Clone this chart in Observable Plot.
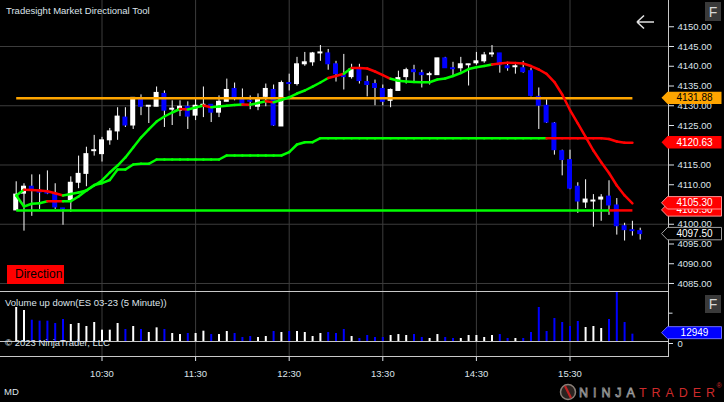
<!DOCTYPE html>
<html><head><meta charset="utf-8">
<script src="https://cdn.jsdelivr.net/npm/d3@7"></script>
<script src="https://cdn.jsdelivr.net/npm/@observablehq/plot@0.6"></script>
<style>
html,body{margin:0;padding:0;background:#000;}
#chart{position:relative;width:724px;height:402px;background:#000;overflow:hidden;font-family:"Liberation Sans",Arial,sans-serif;}
#chart svg{position:absolute;left:0;}
.txt{position:absolute;color:#dde3ea;font-size:9.5px;line-height:12px;white-space:nowrap;}
</style></head><body><div id="chart"></div>
<script>
// ---------- DATA ----------
const barTimes = ["09:35","09:40","09:45","09:50","09:55","10:00","10:05","10:10","10:15","10:20","10:25","10:30","10:35","10:40","10:45","10:50","10:55","11:00","11:05","11:10","11:15","11:20","11:25","11:30","11:35","11:40","11:45","11:50","11:55","12:00","12:05","12:10","12:15","12:20","12:25","12:30","12:35","12:40","12:45","12:50","12:55","13:00","13:05","13:10","13:15","13:20","13:25","13:30","13:35","13:40","13:45","13:50","13:55","14:00","14:05","14:10","14:15","14:20","14:25","14:30","14:35","14:40","14:45","14:50","14:55","15:00","15:05","15:10","15:15","15:20","15:25","15:30","15:35","15:40","15:45","15:50","15:55","16:00","16:05","16:10","16:15"];
const opens = [4103.5,4107.75,4109.5,4108.5,4108,4107.75,4104,4106,4110.5,4112.75,4118.5,4117.75,4121.25,4123.5,4127,4125,4131.5,4129.75,4129.75,4133,4129,4128.75,4129.75,4127.5,4129.75,4130.25,4128.25,4131,4134.25,4131.5,4131.25,4129.75,4132.25,4134,4124.75,4135.75,4135.5,4140.5,4141,4143.25,4143.25,4140.5,4137.75,4137.25,4139.25,4136,4135.5,4134.25,4131.25,4133.75,4137.25,4139,4138.25,4137.75,4137.75,4142,4139.5,4139.5,4140.25,4140.75,4141.25,4143,4143.25,4140,4139.75,4139.5,4138.75,4132.25,4130,4125.5,4118.5,4116.25,4109.5,4105.5,4105.75,4106.25,4107,4104.75,4099.5,4098.5,4098.25];
const highs = [4110.75,4110.25,4112.5,4112.5,4113.5,4110.25,4104,4112,4117.25,4119.5,4122.5,4122,4124.25,4129.5,4129.5,4132,4132.75,4130,4134.75,4133.75,4131.25,4131.25,4131,4131.75,4134.75,4130.25,4132.5,4136.75,4135.75,4134.25,4132.5,4133,4135.5,4135.25,4136.25,4138,4142.25,4143.5,4143.5,4145.25,4144.25,4141.25,4143,4140.5,4140.5,4137.5,4136.5,4135.25,4134.25,4138.75,4139.5,4140.25,4139,4138.5,4142,4142.25,4141,4142.25,4140.5,4143.5,4143.5,4145.25,4143.25,4141,4140.5,4141.25,4139.5,4134.5,4131.5,4125.75,4118.75,4118.75,4110.5,4111.25,4107.5,4107.5,4111,4106.5,4100.25,4100.75,4099];
const lows = [4103.5,4098.25,4102,4103.75,4107.5,4103.75,4099.75,4103,4109,4109.5,4117.25,4115.75,4120,4121.25,4124.5,4124,4127.5,4125.5,4129.75,4124.5,4125,4127.25,4124,4126.25,4127,4125.75,4127,4131,4131.25,4130,4129,4128.75,4129.75,4124.75,4124.75,4133.75,4135,4140,4140,4141.25,4139,4136,4134,4136.75,4135.5,4132.25,4130,4130,4129.5,4133.75,4135.5,4135.75,4134.5,4135.25,4137.75,4139.5,4137.25,4138.5,4135,4140.25,4140.75,4142.25,4138.25,4138.75,4138,4138.25,4132.25,4124,4125.5,4117.5,4112.25,4108.75,4102.75,4104,4099.25,4100.75,4102.25,4097.25,4095.75,4097,4096];
const closes = [4107.5,4109.5,4108.5,4108,4107.75,4104.25,4103.75,4110.5,4112.75,4117.75,4118.75,4121.25,4123.5,4127.25,4125,4132,4129.75,4130,4133.25,4128.75,4129.25,4129.75,4127.25,4130,4130.25,4128.25,4131,4134,4131.75,4130.25,4131,4131.75,4134.25,4125,4135.75,4135.5,4140.5,4141,4143.25,4143.5,4140.5,4138,4137.25,4139.25,4136.25,4135.25,4134.5,4131,4134,4137,4139,4138.5,4137.75,4138,4142,4139.5,4139.25,4140.5,4140.5,4141.25,4142.75,4143.25,4140.25,4139.5,4140,4138.5,4132.5,4130,4125.75,4118.75,4116.25,4109,4105.75,4106.25,4106,4106.75,4104.75,4099.5,4098.5,4098.25,4097.5];
const volumes = [60000,54700,37600,35900,35900,31800,38800,30000,31800,26500,33500,20000,20000,31800,21200,26500,21200,15900,24100,21200,14100,12300,14100,14100,18200,12300,12300,17600,14100,7100,8800,7100,8800,17600,15900,17600,17600,15900,8800,14100,15900,14100,21200,8800,5300,10600,7100,7100,10600,12300,10600,12300,7100,5300,12300,7100,5300,5300,10600,10600,7100,10600,12300,5300,5300,5300,15900,60000,17600,40600,33500,26500,35300,24700,26500,22900,38800,87000,33500,12949];
// directional moving average (fast) and its trend state
const trendMA = [4107.28,4108.72,4108.65,4108.52,4108.34,4107.84,4107.28,4107.66,4108.04,4108.54,4109.81,4111.08,4113.10,4114.87,4116.90,4119.43,4121.96,4123.99,4126.01,4127.28,4128.29,4129.18,4129.05,4129.56,4130.06,4129.63,4129.81,4130.01,4130.19,4130.32,4130.24,4130.70,4131.15,4130.90,4131.46,4132.14,4133.10,4133.86,4134.87,4135.89,4137.03,4137.53,4138.09,4139.56,4139.53,4139.43,4138.67,4137.78,4136.82,4136.32,4136.14,4136.01,4135.96,4135.96,4136.65,4136.90,4137.53,4138.29,4139.30,4139.76,4140.06,4140.44,4140.70,4140.87,4140.82,4140.70,4140.06,4139.18,4138.09,4136.01,4132.85,4128.92,4125.51,4122.09,4118.67,4115.71,4112.97,4109.81,4107.28,4105.30];
const trendMAState = ["up","up","dn","dn","dn","dn","dn","up","up","up","up","up","up","up","up","up","up","up","up","up","up","up","dn","up","up","dn","up","up","up","up","dn","up","up","dn","up","up","up","up","up","up","up","dn","dn","up","dn","dn","dn","dn","dn","up","up","up","up","up","up","up","up","up","up","up","up","up","dn","dn","dn","dn","dn","dn","dn","dn","dn","dn","dn","dn","dn","dn","dn","dn","dn","dn"];
// stepped trailing line and its state
const trailLine = [4107.28,4104.49,4105.18,4105.33,4105.84,4105.84,4105.84,4105.84,4107.03,4108.54,4109.94,4110.39,4111.20,4113.86,4113.86,4115.13,4115.30,4115.30,4116.39,4116.39,4116.39,4116.39,4116.39,4116.39,4116.39,4116.39,4116.39,4117.41,4117.41,4117.41,4117.41,4117.41,4117.41,4117.41,4117.41,4118.24,4120.19,4120.77,4120.77,4121.78,4121.78,4121.78,4121.78,4121.78,4121.78,4121.78,4121.78,4121.78,4121.78,4121.78,4121.78,4121.78,4121.78,4121.78,4121.78,4121.78,4121.78,4121.78,4121.78,4121.78,4121.78,4121.78,4121.78,4121.78,4121.78,4121.78,4121.78,4121.78,4121.78,4121.78,4121.78,4121.78,4121.78,4121.78,4121.78,4121.78,4121.58,4120.95,4120.63,4120.63];
const trailState = ["up","up","up","up","up","dn","dn","up","up","up","up","up","up","up","up","up","up","up","up","up","up","up","up","up","up","up","up","up","up","up","up","up","up","up","up","up","up","up","up","up","up","up","up","up","up","up","up","up","up","up","up","up","up","up","up","up","up","up","up","up","up","up","up","up","up","up","up","up","up","dn","dn","dn","dn","dn","dn","dn","dn","dn","dn","dn"];
const supportLevel = 4103.50;
const supportSpans = [{from:"09:35", to:"15:55", state:"up"}, {from:"15:55", to:"16:10", state:"dn"}];
const pivotLevel = 4131.88;
const pivotSpan = {from:"09:35", to:"16:10"};
const priceTicks = [4085,4090,4095,4100,4105,4110,4115,4120,4125,4130,4135,4140,4145,4150];
const priceGrid = [4085,4100,4115,4130,4145];
const timeTicks = ["10:30","11:30","12:30","13:30","14:30","15:30"];
const volLabelTicks = [0];
const volMinorTicks = [50000];

// ---------- BUILD ----------
const GREEN = "#00ff00", RED = "#ff0000", UPC = "#ffffff", DNC = "#0000ff", GRID = "#3c3c3c", AXIS = "#c8c8c8", TXT = "#dde3ea";
const FONT = "'Liberation Sans', Arial, sans-serif";
const toDate = s => new Date(`2023-03-01T${s}:00Z`);
const bars = barTimes.map((s, i) => ({t: toDate(s), o: opens[i], h: highs[i], l: lows[i], c: closes[i]}));
const vols = volumes.map((v, i) => ({t: bars[i].t, v, up: bars[i].c >= bars[i].o}));
const t0 = +toDate("09:35");
const xDomain = [new Date(t0 - 10.064 * 60000), new Date(t0 + 418.14 * 60000)];
const half = 96000;
const segs = (vals, states) => vals.slice(1).map((v, k) => ({t1: bars[k].t, v1: vals[k], t2: bars[k + 1].t, v2: v, s: states[k + 1]}));
const segA = segs(trendMA, trendMAState);
const segB = segs(trailLine, trailState);
const segC = supportSpans.map(d => ({t1: toDate(d.from), t2: toDate(d.to), v: supportLevel, s: d.state}));
const pivot = [{t1: toDate(pivotSpan.from), t2: toDate(pivotSpan.to), v: pivotLevel}];
const hourDates = timeTicks.map(toDate);
const col = s => s === "up" ? GREEN : RED;

// price-axis values whose labels sit fully behind a value flag are left unlabelled (only the tick shows)
const flagValues = [trailLine[trailLine.length - 1], trendMA[trendMA.length - 1]];
const hiddenTick = v => flagValues.some(f => Math.abs(f - v) < 1);

const priceSvg = Plot.plot({
  width: 724, height: 291, marginTop: 0, marginBottom: 0, marginLeft: 0, marginRight: 56,
  style: {background: "transparent", color: TXT, fontFamily: FONT, fontSize: "9.5px", overflow: "visible"},
  x: {type: "utc", domain: xDomain, axis: null, label: null},
  y: {domain: [4082.97, 4156.65], label: null},
  marks: [
    Plot.ruleY(priceGrid, {stroke: GRID}),
    Plot.ruleX(hourDates, {stroke: GRID}),
    Plot.axisY({anchor: "right", label: null, ticks: priceTicks, tickFormat: d => hiddenTick(d) ? "" : d.toFixed(2), tickSize: 5, tickPadding: 4}),
    Plot.ruleX(bars, {x: "t", y1: "l", y2: "h", stroke: "#ffffff", strokeWidth: 1}),
    Plot.rect(bars, {x1: d => new Date(+d.t - half), x2: d => new Date(+d.t + half), y1: "o", y2: "c",
      fill: d => d.c >= d.o ? UPC : DNC, insetTop: -0.5, insetBottom: -0.5}),
    Plot.link(segC, {x1: "t1", x2: "t2", y1: "v", y2: "v", stroke: d => col(d.s), strokeWidth: 2.5}),
    Plot.link(pivot, {x1: "t1", x2: "t2", y1: "v", y2: "v", stroke: "#ffa500", strokeWidth: 2.5}),
    Plot.link(segB, {x1: "t1", x2: "t2", y1: "v1", y2: "v2", stroke: d => col(d.s), strokeWidth: 2.5, strokeLinecap: "round"}),
    Plot.link(segA, {x1: "t1", x2: "t2", y1: "v1", y2: "v2", stroke: d => col(d.s), strokeWidth: 2.5, strokeLinecap: "round"})
  ]
});

const tickEnd = new Date(+xDomain[1] + 4 / 7.8 * 5 * 60000);
const volSvg = Plot.plot({
  width: 724, height: 111, marginTop: 0, marginBottom: 46, marginLeft: 0, marginRight: 56,
  style: {background: "transparent", color: TXT, fontFamily: FONT, fontSize: "9.5px", overflow: "visible"},
  x: {type: "utc", domain: xDomain, label: null},
  y: {domain: [0, 87000], range: [50, 0.7], label: null},
  marks: [
    Plot.ruleX(hourDates, {stroke: GRID}),
    Plot.ruleY([0], {stroke: AXIS}),
    Plot.ruleX(vols, {x: "t", y1: 0, y2: "v", stroke: d => d.up ? UPC : DNC, strokeWidth: 2}),
    Plot.axisX({label: null, ticks: hourDates, tickFormat: d3.utcFormat("%H:%M"), tickSize: 5, tickPadding: 9}),
    Plot.axisY({anchor: "right", label: null, ticks: volLabelTicks, tickFormat: d => String(d), tickSize: 4, tickPadding: 5, dy: 2}),
    Plot.link(volMinorTicks, {x1: () => xDomain[1], x2: () => tickEnd, y1: d => d, y2: d => d, stroke: TXT})
  ]
});

const chart = document.getElementById("chart");
priceSvg.style.top = "0px";
volSvg.style.top = "291px";
chart.appendChild(priceSvg);
chart.appendChild(volSvg);

function line(svg, x1, y1, x2, y2, c) {
  d3.select(svg).append("line").attr("x1", x1).attr("y1", y1).attr("x2", x2).attr("y2", y2)
    .attr("stroke", c).attr("stroke-width", 1);
}
line(priceSvg, 668.5, 0, 668.5, 291, AXIS);
line(volSvg, 0, 0.5, 668, 0.5, AXIS);
line(volSvg, 0, 65.5, 668, 65.5, AXIS);
line(volSvg, 668.5, 0, 668.5, 66, AXIS);

function flag(svg, y, text, fill, textColor, stroke, hh = 6.2) {
  const g = d3.select(svg).append("g");
  g.append("polygon")
    .attr("points", `661.5,${y} 667.5,${y - hh} 721.5,${y - hh} 721.5,${y + hh} 667.5,${y + hh}`)
    .attr("fill", fill).attr("stroke", stroke || "none").attr("stroke-width", 1);
  g.append("text").attr("x", 694.5).attr("y", y).attr("dy", "0.35em").attr("text-anchor", "middle")
    .attr("fill", textColor).attr("font-family", FONT).attr("font-size", "10px").text(text);
}
const py = priceSvg.scale("y");
const vy = volSvg.scale("y");
flag(priceSvg, py.apply(pivotLevel), pivotLevel.toFixed(2), "#ffa500", "#000");
flag(priceSvg, py.apply(trailLine[trailLine.length - 1]), trailLine[trailLine.length - 1].toFixed(2), RED, "#fff");
flag(priceSvg, py.apply(supportLevel), supportLevel.toFixed(2), RED, "#fff", "#ff9090");
flag(priceSvg, py.apply(trendMA[trendMA.length - 1]), trendMA[trendMA.length - 1].toFixed(2), RED, "#fff", "#ff9090");
flag(priceSvg, py.apply(closes[closes.length - 1]), closes[closes.length - 1].toFixed(2), "#000", "#fff", "#a0a0a0");
flag(volSvg, vy.apply(volumes[volumes.length - 1]) - 1, String(volumes[volumes.length - 1]), DNC, "#fff", "#6a6aff", 6);

// overlay: buttons, arrow, logo
const ov = d3.select(chart).append("svg").attr("width", 724).attr("height", 402).style("top", "0px");
function fButton(x, y, w, h) {
  ov.append("rect").attr("x", x).attr("y", y).attr("width", w).attr("height", h).attr("fill", "#3a3a3a");
  ov.append("text").attr("x", x + w / 2).attr("y", y + h / 2).attr("dy", "0.36em").attr("text-anchor", "middle")
    .attr("fill", "#d8d8d8").attr("font-family", FONT).attr("font-size", "14px").text("F");
}
fButton(705, 2, 16, 19);
fButton(705, 295, 16, 18);
ov.append("path").attr("d", "M637,22 H654 M637,22 L644,15.5 M637,22 L644,28.5")
  .attr("stroke", "#e0e0e0").attr("stroke-width", 1.6).attr("fill", "none");
// logo emblem
ov.append("circle").attr("cx", 568).attr("cy", 392).attr("r", 7.5).attr("fill", "#2a2320").attr("stroke", "#8a7f78").attr("stroke-width", 1.5);
ov.append("path").attr("d", "M565,386 L571,398").attr("stroke", "#c02020").attr("stroke-width", 2.2);
const logo = ov.append("text").attr("x", 579).attr("y", 392).attr("dy", "0.36em")
  .attr("font-family", FONT).attr("font-size", "12.5px")
  .attr("textLength", 136).attr("lengthAdjust", "spacing");
logo.append("tspan").attr("fill", "none").attr("stroke", "#9a9a9a").attr("stroke-width", 0.8).text("NINJA");
logo.append("tspan").attr("fill", "#cc2a2a").text("TRADER");
ov.append("text").attr("x", 716.5).attr("y", 388).attr("fill", "#cc2a2a").attr("font-family", FONT)
  .attr("font-size", "7px").text("®");

function txt(s, left, top, extra) {
  const d = document.createElement("div");
  d.className = "txt"; d.textContent = s;
  d.style.left = left + "px"; d.style.top = top + "px";
  if (extra) Object.assign(d.style, extra);
  chart.appendChild(d);
}
txt("Tradesight Market Directional Tool", 6, 5);
txt("Volume up down(ES 03-23 (5 Minute))", 5, 296.5);
txt("© 2023 NinjaTrader, LLC", 5, 337);
txt("MD", 4, 386);
txt("Direction", 7, 265, {background: RED, color: "#000", fontSize: "12px", width: "49px", height: "18.5px", lineHeight: "19px", paddingLeft: "8px"});
</script></body></html>
